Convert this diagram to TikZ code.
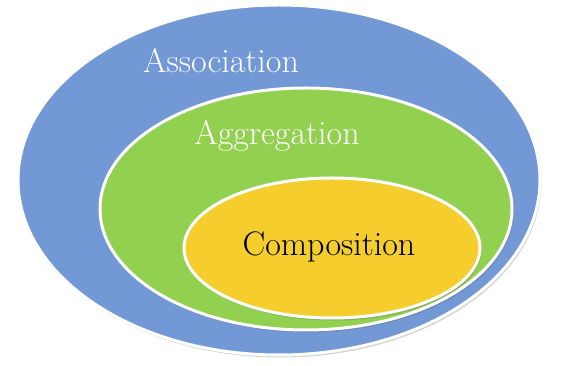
\documentclass[tikz,border=0pt]{standalone}
\usetikzlibrary{shapes.geometric,shadows}
\definecolor{assocblue}{RGB}{114,152,214}
\definecolor{aggrgreen}{RGB}{146,208,80}
\definecolor{compyellow}{RGB}{245,205,45}
\tikzset{
  setring/.style={ellipse, draw=white, line width=3pt, inner sep=0pt,
    drop shadow={shadow xshift=1.5pt, shadow yshift=-2.5pt, opacity=0.3, fill=black!60}},
  setlabel/.style={font=\fontsize{34}{36}\selectfont, inner sep=0pt}
}
\begin{document}
\begin{tikzpicture}[x=1pt,y=1pt]
  \useasboundingbox (0,0) rectangle (567,366);
  % nested sets
  \node[setring, fill=assocblue, minimum width=522pt, minimum height=350pt] (assoc) at (279,186) {};
  \node[setring, fill=aggrgreen, minimum width=412pt, minimum height=242pt] (aggr) at (306,157) {};
  \node[setring, fill=compyellow, minimum width=296pt, minimum height=140pt] (comp) at (332,118) {};
  % labels
  \node[setlabel, text=white] (assoclabel) at (221,305) {Association};
  \node[setlabel, text=white] (aggrlabel) at (277,230) {Aggregation};
  \node[setlabel, text=black] (complabel) at (329,119) {Composition};
\end{tikzpicture}
\end{document}
